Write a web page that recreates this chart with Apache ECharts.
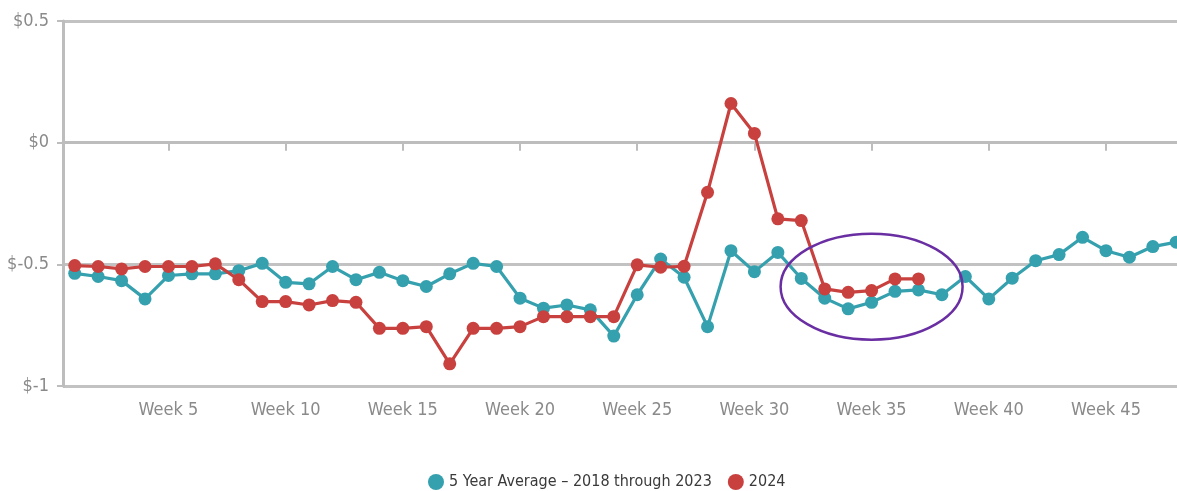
<!DOCTYPE html>
<html>
<head>
<meta charset="utf-8">
<script src="https://cdn.jsdelivr.net/npm/echarts@6/dist/echarts.min.js"></script>
<style>
html,body{margin:0;padding:0;background:#fff;overflow:hidden;width:1177px;height:491px;}
#chart{width:1188px;height:491px;}
</style>
</head>
<body>
<div id="chart"></div>
<script>
const weeks = Array.from({length: 48}, (_, i) => 'Week ' + (i + 1));
const seriesNames = ['5 Year Average \u2013 2018 through 2023', '2024'];
const avg5 = [-0.537, -0.550, -0.567, -0.642, -0.546, -0.539, -0.539, -0.526, -0.496, -0.574,
              -0.580, -0.509, -0.563, -0.533, -0.567, -0.591, -0.539, -0.496, -0.509, -0.639,
              -0.680, -0.667, -0.687, -0.795, -0.625, -0.478, -0.553, -0.756, -0.444, -0.530,
              -0.451, -0.558, -0.639, -0.683, -0.656, -0.611, -0.605, -0.625, -0.550, -0.642,
              -0.557, -0.485, -0.460, -0.389, -0.444, -0.471, -0.427, -0.409];
const y2024 = [-0.505, -0.509, -0.519, -0.509, -0.509, -0.509, -0.498, -0.563, -0.653, -0.653,
               -0.667, -0.649, -0.656, -0.763, -0.763, -0.756, -0.909, -0.763, -0.763, -0.756,
               -0.715, -0.715, -0.715, -0.715, -0.502, -0.512, -0.508, -0.204, 0.161, 0.038,
               -0.313, -0.320, -0.601, -0.615, -0.608, -0.560, -0.560,
               null, null, null, null, null, null, null, null, null, null, null];
const yTicks = [-1, -0.5, 0, 0.5];

const FONT = '"DejaVu Sans Condensed", "Liberation Sans Narrow", sans-serif';
const chart = echarts.init(document.getElementById('chart'), null, {renderer: 'canvas'});
const option = {
  animation: false,
  backgroundColor: '#ffffff',
  grid: {left: 63, right: 0, top: 21, bottom: 105, containLabel: false},
  legend: {
    data: [
      {name: seriesNames[0], icon: 'circle'},
      {name: seriesNames[1], icon: 'circle'}
    ],
    left: 423,
    top: 469,
    itemWidth: 16,
    itemHeight: 16,
    itemGap: 16,
    textStyle: {fontFamily: FONT, fontSize: 16, color: '#3a3a3a'}
  },
  xAxis: {
    type: 'category',
    data: weeks,
    boundaryGap: true,
    axisLine: {lineStyle: {color: '#bdbdbd', width: 3}},
    axisTick: {
      show: true, alignWithLabel: true, length: 8,
      interval: (i) => (i + 1) % 5 === 0,
      lineStyle: {color: '#bdbdbd', width: 2}
    },
    axisLabel: {
      interval: (i) => (i + 1) % 5 === 0,
      margin: 15,
      fontFamily: FONT, fontSize: 18, color: '#8a8a8a'
    },
    splitLine: {show: false}
  },
  yAxis: {
    type: 'value',
    min: -1, max: 0.5, interval: 0.5,
    axisLine: {show: true, lineStyle: {color: '#bdbdbd', width: 3}},
    axisTick: {show: true, length: 6, lineStyle: {color: '#bdbdbd', width: 2}},
    axisLabel: {
      margin: 14,
      fontFamily: FONT, fontSize: 18, color: '#8a8a8a',
      formatter: (v) => '$' + (Math.round(v * 10) / 10)
    },
    splitLine: {show: true, lineStyle: {color: '#c2c2c2', width: 3}}
  },
  series: [
    {
      name: seriesNames[0], type: 'line', data: avg5,
      symbol: 'circle', symbolSize: 13,
      itemStyle: {color: '#35a0ae'},
      lineStyle: {color: '#35a0ae', width: 3.2}
    },
    {
      name: seriesNames[1], type: 'line', data: y2024,
      symbol: 'circle', symbolSize: 13,
      itemStyle: {color: '#c8413e'},
      lineStyle: {color: '#c8413e', width: 3.2}
    }
  ]
};
chart.setOption(option);

// annotation ellipse around weeks 33-38
const c = chart.convertToPixel({gridIndex: 0}, ['Week 35', -0.6]);
chart.setOption({
  graphic: [{
    type: 'ellipse',
    shape: {cx: c[0], cy: c[1] - 2, rx: 91, ry: 53},
    style: {fill: 'none', stroke: '#6a2ea3', lineWidth: 2.5},
    z: 100
  }]
});
</script>
</body>
</html>
